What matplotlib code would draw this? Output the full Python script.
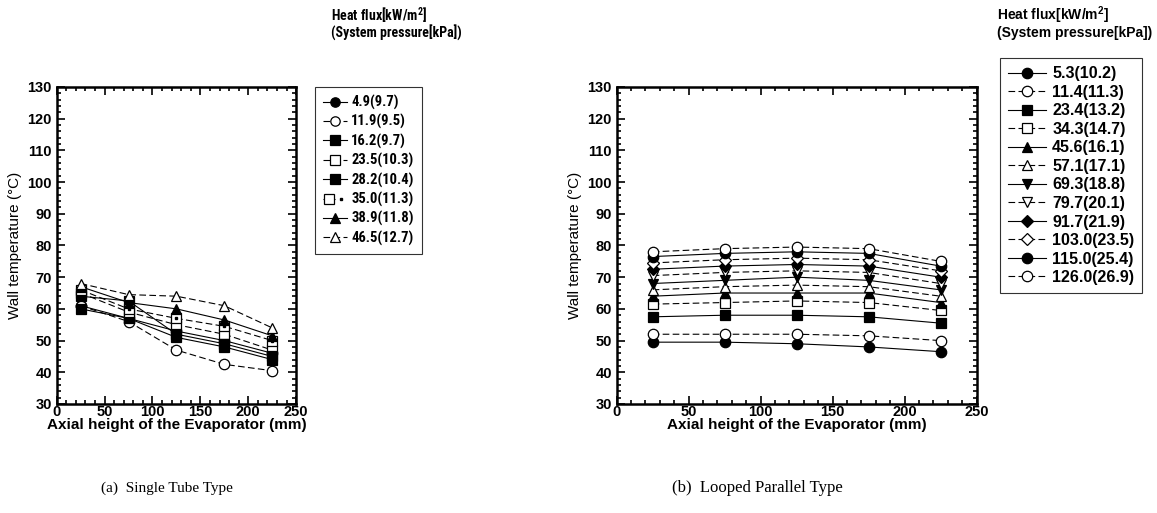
import os
import fnmatch
import matplotlib.pyplot as plt
from matplotlib.ticker import MultipleLocator
from matplotlib.legend_handler import HandlerTuple
from matplotlib import font_manager
from matplotlib.font_manager import FontProperties

plt.rcParams['font.family'] = ['Liberation Sans', 'DejaVu Sans']
plt.rcParams['mathtext.default'] = 'regular'

# the left panel of the reference is squeezed sideways; use a narrow bold face if one exists
cond_file = None
files = [f.fname for f in font_manager.fontManager.ttflist]
for pat in ["LiberationSansNarrow-Bold.ttf", "RobotoCondensed-Bold.ttf",
            "NotoSans-CondensedBold.ttf", "NotoSans-ExtraCondensedBold.ttf",
            "OpenSans-CondensedBold.ttf", "OpenSans_Condensed-Bold.ttf"]:
    hits = [f for f in files if fnmatch.fnmatch(os.path.basename(f), pat)]
    if hits:
        cond_file = hits[0]
        break


def cond_font(size):
    if cond_file:
        return FontProperties(fname=cond_file, size=size)
    return FontProperties(family="Liberation Sans", weight="bold", size=size - 2)


height_mm = [25, 75, 125, 175, 225]

# (a) Single tube type
single_labels = ["4.9(9.7)", "11.9(9.5)", "16.2(9.7)", "23.5(10.3)",
                 "28.2(10.4)", "35.0(11.3)", "38.9(11.8)", "46.5(12.7)"]
single_temps = [
    [61.0, 57.0, 53.0, 50.0, 46.0],
    [61.0, 56.0, 47.0, 42.5, 40.5],
    [60.0, 57.0, 51.0, 48.0, 44.0],
    [65.0, 59.0, 55.0, 52.0, 47.0],
    [64.0, 62.5, 52.0, 49.0, 45.0],
    [66.0, 60.0, 57.0, 54.5, 50.0],
    [67.0, 62.0, 60.0, 56.5, 51.5],
    [68.0, 64.5, 64.0, 61.0, 54.0],
]
single_styles = [("o", True, "-"), ("o", False, "--"), ("s", True, "-"), ("s", False, "--"),
                 ("s", True, "-"), ("s", False, "--"), ("^", True, "-"), ("^", False, "--")]

# (b) Looped parallel type
looped_labels = ["5.3(10.2)", "11.4(11.3)", "23.4(13.2)", "34.3(14.7)", "45.6(16.1)",
                 "57.1(17.1)", "69.3(18.8)", "79.7(20.1)", "91.7(21.9)", "103.0(23.5)",
                 "115.0(25.4)", "126.0(26.9)"]
looped_temps = [
    [49.5, 49.5, 49.0, 48.0, 46.5],
    [52.0, 52.0, 52.0, 51.5, 50.0],
    [57.5, 58.0, 58.0, 57.5, 55.5],
    [61.5, 62.0, 62.5, 62.0, 59.5],
    [64.0, 65.0, 65.0, 65.0, 62.0],
    [66.0, 67.0, 67.5, 67.0, 64.0],
    [68.0, 69.0, 70.0, 69.0, 66.0],
    [70.5, 71.5, 72.0, 71.5, 68.0],
    [72.5, 73.5, 74.0, 73.5, 70.0],
    [74.5, 75.5, 76.0, 75.5, 72.0],
    [76.5, 77.5, 78.0, 77.5, 73.5],
    [78.0, 79.0, 79.5, 79.0, 75.0],
]
looped_styles = [("o", True, "-"), ("o", False, "--"), ("s", True, "-"), ("s", False, "--"),
                 ("^", True, "-"), ("^", False, "--"), ("v", True, "-"), ("v", False, "--"),
                 ("D", True, "-"), ("D", False, "--"), ("o", True, "-"), ("o", False, "--")]


def draw_panel(ax, labels, temps, styles, dotted_idx=None):
    handles = []
    for i, (lab, vals, (mk, filled, ls)) in enumerate(zip(labels, temps, styles)):
        ms = 6.5 if mk == "D" else 7.5
        line, = ax.plot(height_mm, vals, linestyle=ls, linewidth=0.8, color="black",
                        marker=mk, markersize=ms, markeredgewidth=0.9,
                        markerfacecolor="black" if filled else "white",
                        markeredgecolor="black", dashes=(6, 3) if ls == "--" else (None, None))
        h = line
        if i == dotted_idx:
            dot, = ax.plot(height_mm, vals, linestyle="none", marker="s", markersize=1.6,
                           color="black")
            h = (line, dot)
        handles.append(h)
    ax.set_xlim(0, 250)
    ax.set_ylim(30, 130)
    ax.xaxis.set_major_locator(MultipleLocator(50))
    ax.xaxis.set_minor_locator(MultipleLocator(10))
    ax.yaxis.set_major_locator(MultipleLocator(10))
    ax.yaxis.set_minor_locator(MultipleLocator(2))
    ax.tick_params(which="both", direction="in", top=True, right=True, width=1.2)
    ax.tick_params(which="major", length=6, labelsize=10.5)
    ax.tick_params(axis="x", which="major", pad=1)
    ax.tick_params(which="minor", length=3)
    for lab in ax.get_xticklabels() + ax.get_yticklabels():
        lab.set_fontweight("bold")
    for sp in ax.spines.values():
        sp.set_linewidth(1.8)
    ax.set_xlabel("Axial height of the Evaporator (mm)", fontsize=11, fontweight="bold",
                  labelpad=-1)
    ax.set_ylabel("Wall temperature (°C)", fontsize=11, labelpad=4)
    return handles


fig = plt.figure(figsize=(11.57, 5.13), dpi=100)

# (a)
ax1 = fig.add_axes([0.049, 0.2125, 0.207, 0.618])
h1 = draw_panel(ax1, single_labels, single_temps, single_styles, dotted_idx=5)
leg1 = ax1.legend(h1, single_labels, loc="upper left", bbox_to_anchor=(1.08, 1.0),
                  borderaxespad=0,
                  handler_map={tuple: HandlerTuple(ndivide=None, pad=0)},
                  frameon=True, fancybox=False, edgecolor="black", handlelength=1.6,
                  prop=cond_font(10.5), labelspacing=0.3, borderpad=0.55,
                  handletextpad=0.3, markerscale=0.9)
leg1.get_frame().set_linewidth(0.8)
fig.text(0.286, 0.971, "Heat flux[kW/m$^2$]", fontproperties=cond_font(10), va="center")
fig.text(0.286, 0.936, "(System pressure[kPa])", fontproperties=cond_font(10), va="center")
fig.text(0.087, 0.048, "(a)  Single Tube Type", fontsize=11, family="Liberation Serif",
         va="center")

# (b)
ax2 = fig.add_axes([0.533, 0.2125, 0.311, 0.618])
h2 = draw_panel(ax2, looped_labels, looped_temps, looped_styles)
leg2 = ax2.legend(h2, looped_labels, loc="upper left", bbox_to_anchor=(1.064, 1.09),
                  borderaxespad=0,
                  frameon=True, fancybox=False, edgecolor="black", handlelength=2.4,
                  prop={"weight": "bold", "size": 11.5}, labelspacing=0.22, borderpad=0.5,
                  handletextpad=0.4)
leg2.get_frame().set_linewidth(0.8)
fig.text(0.862, 0.971, "Heat flux[kW/m$^2$]", fontsize=10, fontweight="bold", va="center")
fig.text(0.862, 0.936, "(System pressure[kPa])", fontsize=10, fontweight="bold", va="center")
fig.text(0.581, 0.048, "(b)  Looped Parallel Type", fontsize=12, family="Liberation Serif",
         va="center")

fig.savefig("out.png", dpi=100)
